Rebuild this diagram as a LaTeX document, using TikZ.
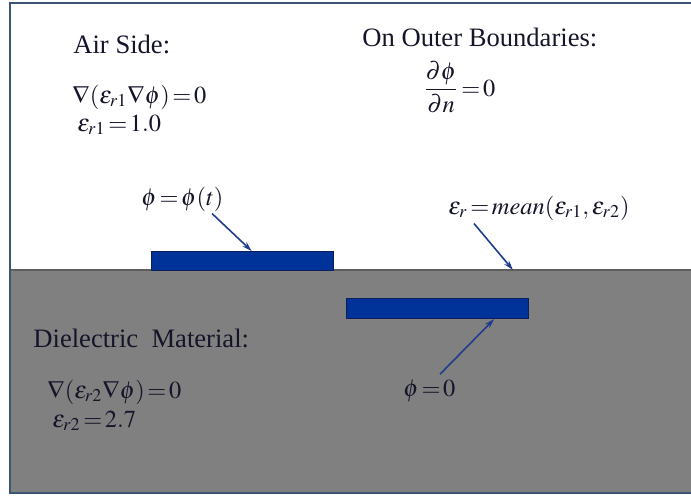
\documentclass[tikz,border=0pt]{standalone}
\usepackage{amsmath}
\usepackage{mathptmx}
\usepackage{fontspec}
\setmainfont{Liberation Serif}
\usepackage{tikz}
\usetikzlibrary{arrows.meta, calc}

\definecolor{metal}{HTML}{003399}
\definecolor{metaledge}{HTML}{0B1F5C}
\definecolor{arrowblue}{HTML}{1F3D8C}
\definecolor{slab}{HTML}{808080}
\definecolor{slabedge}{HTML}{5E5E5E}
\definecolor{framec}{HTML}{3B5573}
\definecolor{ink}{HTML}{15152A}

\thickmuskip=2mu plus 1mu
% equations are set a little smaller than the headings
\newcommand{\eqn}[1]{{\fontsize{12.2}{15}\selectfont$#1$}}

\begin{document}
\begin{tikzpicture}[x=0.5pt, y=-0.5pt,
  every node/.style={font=\fontsize{13.3}{16}\selectfont, text=ink, inner sep=0pt},
  lbl/.style={anchor=base west},
  electrode/.style={draw=metaledge, fill=metal, line width=0.5pt, anchor=north west, minimum width=91pt, minimum height=9.5pt},
  pointer/.style={draw=arrowblue, line width=0.8pt, -{Stealth[length=5pt, width=3pt]}}]

\useasboundingbox (0,0) rectangle (691,495);

% Substrate and frame
\fill[slab] (10,270) rectangle (695,493);
\draw[slabedge, line width=0.6pt] (10,270) -- (695,270);
\draw[framec, line width=0.8pt] (695,3) -- (10,3) -- (10,493) -- (695,493);

% Electrodes
\node[electrode] (topel) at (151,251) {};
\node[electrode, minimum height=10pt] (botel) at (346,298) {};

% Air side
\node[lbl] (airhead) at (73,53) {Air Side:};
\node[lbl] (airpde) at (72,103) {\eqn{\nabla(\varepsilon_{r1}\nabla\phi)=0}};
\node[lbl] (airval) at (77,131) {\eqn{\varepsilon_{r1}=1.0}};

% Outer boundaries
\node[lbl] (bndhead) at (362,46) {On Outer Boundaries:};
\node[lbl] (bndeq) at (423,96) {\eqn{\dfrac{\partial\phi}{\partial n}=0}};

% Dielectric
\node[lbl] (dielhead) at (33,347) {Dielectric\ \ Material:};
\node[lbl] (dielpde) at (47,398) {\eqn{\nabla(\varepsilon_{r2}\nabla\phi)=0}};
\node[lbl] (dielval) at (52,427) {\eqn{\varepsilon_{r2}=2.7}};

% Pointer labels
\node[lbl] (potsrc) at (141,205) {\eqn{\phi=\phi(t)}};
\node[lbl] (epsmean) at (448,214) {\eqn{\varepsilon_r=mean(\varepsilon_{r1},\varepsilon_{r2})}};
\node[lbl] (potgnd) at (403,396) {\eqn{\phi=0}};

\coordinate (iface) at (513,270);
\draw[pointer] ($(potsrc.south west)+(71,2)$) -- ($(topel.north west)!0.55!(topel.north east)$);
\draw[pointer] ($(epsmean.south west)+(26,3)$) -- (iface);
\draw[pointer] ($(potgnd.north west)+(37,-5)$) -- ($(botel.south west)!0.81!(botel.south east)$);

\end{tikzpicture}
\end{document}
